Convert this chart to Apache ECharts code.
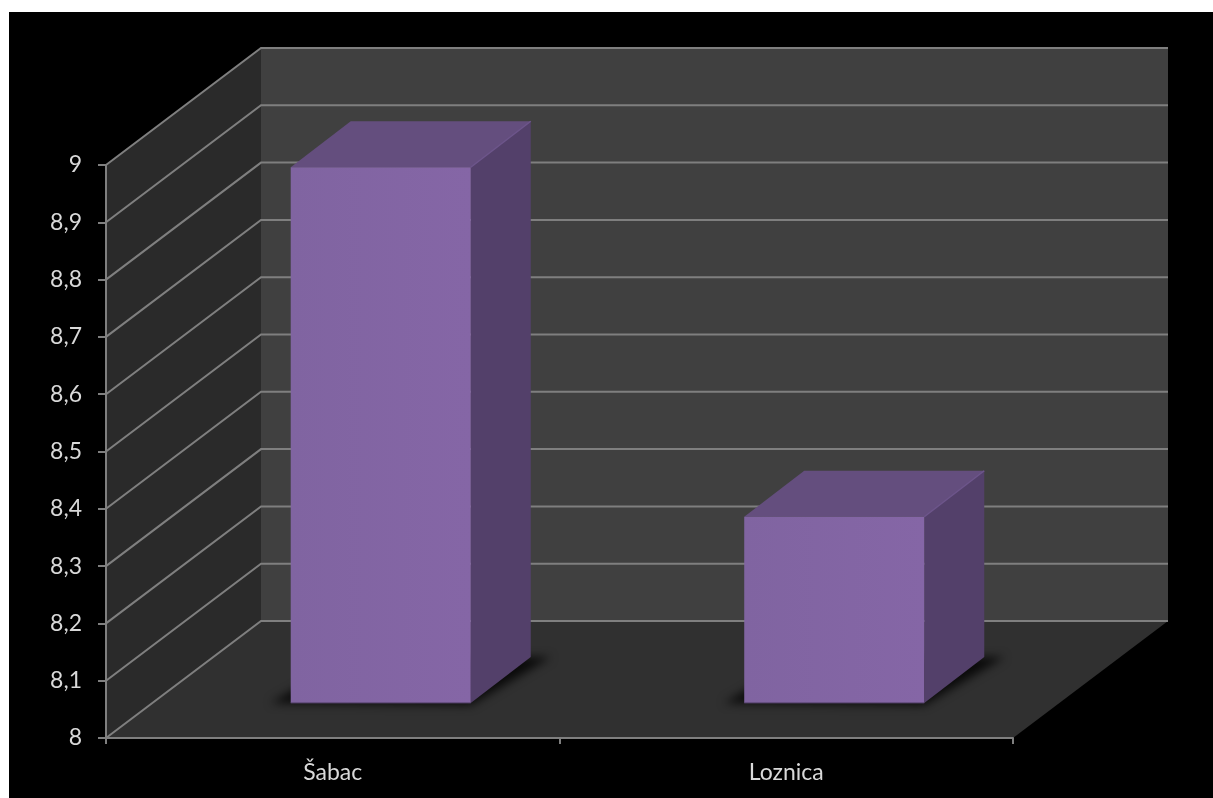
<!DOCTYPE html>
<html>
<head>
<meta charset="utf-8">
<style>html,body{margin:0;padding:0;background:#fff}#chart{width:1213px;height:798px}</style>
<script src="https://cdn.jsdelivr.net/npm/echarts@6/dist/echarts.min.js"></script>
</head>
<body>
<div id="chart"></div>
<script>
const categories = ['Šabac', 'Loznica'];
const values = [8.935, 8.325];
const yTickValues = [8, 8.1, 8.2, 8.3, 8.4, 8.5, 8.6, 8.7, 8.8, 8.9, 9];
const yTickLabels = ['8', '8,1', '8,2', '8,3', '8,4', '8,5', '8,6', '8,7', '8,8', '8,9', '9'];

const FONT = 'Lato, "Open Sans", sans-serif';
const DEPTH = { x: 155, y: 117 };
const BAR = { nearX: 48, nearY: 35, dx: 60, dy: 46, widthRatio: 0.397 };
const LINE = '#7f7f7f';
const SHADOW_SHIFT = 3000;

function poly(points, fill, extra) {
  return Object.assign({ type: 'polygon', shape: { points }, style: { fill: fill } }, extra || {});
}

function renderWalls(params, api) {
  const c = params.coordSys;
  const L = c.x, R = c.x + c.width, T = c.y, B = c.y + c.height;
  const dx = DEPTH.x, dy = DEPTH.y;
  return { type: 'group', children: [
    poly([[L + dx, T - dy], [R + dx, T - dy], [R + dx, B - dy], [L + dx, B - dy]], '#404040'),
    poly([[L, T], [L + dx, T - dy], [L + dx, B - dy], [L, B]], '#2a2a2a'),
    poly([[L, B], [L + dx, B - dy], [R + dx, B - dy], [R, B]], '#303030')
  ]};
}

function renderGridLine(params, api) {
  const c = params.coordSys;
  const L = c.x, R = c.x + c.width;
  const y = api.coord([0, api.value(1)])[1];
  return {
    type: 'polyline',
    shape: { points: [[L, y], [L + DEPTH.x, y - DEPTH.y], [R + DEPTH.x, y - DEPTH.y]] },
    style: { fill: null, stroke: LINE, lineWidth: 2 }
  };
}

function barFrame(api) {
  const i = api.value(0);
  const base = api.coord([i, 8]);
  const top = api.coord([i, api.value(1)]);
  const w = api.size([1, 0])[0] * BAR.widthRatio;
  const x0 = base[0] + BAR.nearX - w / 2, x1 = x0 + w;
  return { x0, x1, yb: base[1] - BAR.nearY, yt: top[1] - BAR.nearY };
}

// Only the blurred shadow is seen: the casting shape sits outside the canvas.
function renderShadow(params, api) {
  const f = barFrame(api);
  const s = SHADOW_SHIFT;
  return {
    type: 'polygon',
    shape: { points: [[f.x0 - 20 - s, f.yb], [f.x1 - s, f.yb + 2], [f.x1 + BAR.dx + 20 - s, f.yb - BAR.dy], [f.x0 + BAR.dx - s, f.yb - BAR.dy]] },
    style: { fill: '#000', shadowBlur: 10, shadowColor: 'rgba(0,0,0,0.8)', shadowOffsetX: s }
  };
}

function renderBar(params, api) {
  const f = barFrame(api);
  const dx = BAR.dx, dy = BAR.dy;
  return { type: 'group', children: [
    poly([[f.x1, f.yt], [f.x1 + dx, f.yt - dy], [f.x1 + dx, f.yb - dy], [f.x1, f.yb]], '#53406a'),
    poly([[f.x0, f.yt], [f.x0 + dx, f.yt - dy], [f.x1 + dx, f.yt - dy], [f.x1, f.yt]], '#644e7e'),
    { type: 'line', shape: { x1: f.x1, y1: f.yt, x2: f.x1 + dx, y2: f.yt - dy },
      style: { stroke: '#6d558b', lineWidth: 1.5 } },
    poly([[f.x0, f.yt], [f.x1, f.yt], [f.x1, f.yb], [f.x0, f.yb]], {
      type: 'linear', x: 0, y: 0, x2: 1, y2: 0,
      colorStops: [{ offset: 0, color: '#8064a1' }, { offset: 1, color: '#8566a6' }]
    }),
    { type: 'line', shape: { x1: f.x0, y1: f.yb, x2: f.x1, y2: f.yb },
      style: { stroke: '#4a3a5e', lineWidth: 1 } }
  ]};
}

const option = {
  animation: false,
  backgroundColor: 'transparent',
  graphic: [{ type: 'rect', z: -10, shape: { x: 9, y: 12, width: 1204, height: 786 }, style: { fill: '#000' } }],
  grid: { left: 106, right: 200, top: 165, bottom: 60 },
  xAxis: {
    type: 'category', data: categories, z: 10,
    axisLine: { lineStyle: { color: LINE, width: 2 } },
    axisTick: { show: true, alignWithLabel: false, length: 6, lineStyle: { color: LINE, width: 2 } },
    axisLabel: { color: '#d9d9d9', fontFamily: FONT, fontSize: 23, margin: 23 },
    splitLine: { show: false }
  },
  yAxis: {
    type: 'value', min: 8, max: 9, interval: 0.1, z: 10,
    axisLine: { show: true, lineStyle: { color: LINE, width: 2 } },
    axisTick: { show: true, length: 8, lineStyle: { color: LINE, width: 2 } },
    axisLabel: {
      color: '#d9d9d9', fontFamily: FONT, fontSize: 23, margin: 24, padding: [3, 0, 0, 0],
      formatter: v => yTickLabels[yTickValues.findIndex(t => Math.abs(t - v) < 1e-6)]
    },
    splitLine: { show: false }
  },
  series: [
    { type: 'custom', name: 'walls', z: 1, silent: true, renderItem: renderWalls, data: [[0, yTickValues[0]]], encode: { x: 0, y: 1 } },
    { type: 'custom', name: 'gridlines', z: 2, silent: true, renderItem: renderGridLine, data: yTickValues.map(v => [0, v]), encode: { x: 0, y: 1 } },
    { type: 'custom', name: 'shadows', z: 3, silent: true, renderItem: renderShadow, data: values.map((v, i) => [i, v]), encode: { x: 0, y: 1 } },
    { type: 'custom', name: 'bars', z: 4, renderItem: renderBar, data: values.map((v, i) => [i, v]), encode: { x: 0, y: 1 } }
  ]
};
const chart = echarts.init(document.getElementById('chart'), null, { renderer: 'canvas', width: 1213, height: 798 });
chart.setOption(option);
</script>
</body>
</html>
